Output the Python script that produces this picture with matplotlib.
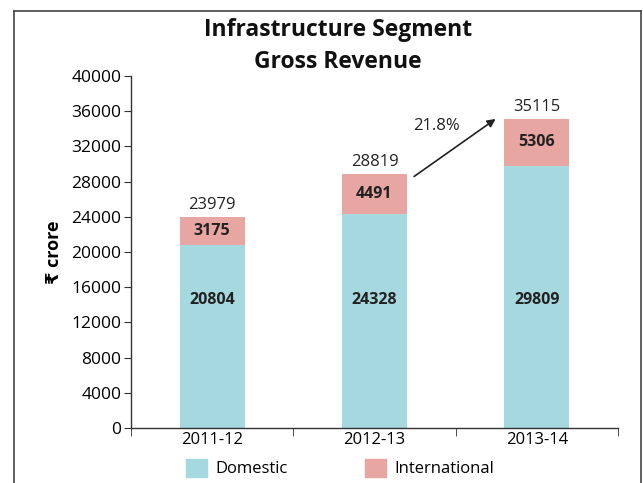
import numpy as np
import matplotlib.pyplot as plt
from matplotlib.patches import Patch

years = ["2011-12", "2012-13", "2013-14"]
domestic = [20804, 24328, 29809]
international = [3175, 4491, 5306]
totals = [23979, 28819, 35115]
growth = "21.8%"

c_dom = "#a6d8e0"
c_int = "#e8a6a2"

plt.rcParams['font.family'] = ['Open Sans', 'DejaVu Sans']

fig = plt.figure(figsize=(6.43, 4.83), dpi=100)
ax = fig.add_axes([131/643, 1-428/483, (618-131)/643, (428-76)/483])

x = np.arange(len(years))
ax.bar(x, domestic, width=0.4, color=c_dom)
ax.bar(x, international, width=0.4, bottom=domestic, color=c_int)

for i in range(len(years)):
    ax.text(x[i], 14500, str(domestic[i]), ha="center", va="center",
            fontsize=11.5, fontweight="bold", color="#222222")
    ax.text(x[i], domestic[i] + international[i]/2, str(international[i]),
            ha="center", va="center", fontsize=11.5, fontweight="bold", color="#222222")
    ax.text(x[i], totals[i] + 500, str(totals[i]), ha="center", va="bottom",
            fontsize=12, color="#222222")

# growth arrow
ax.annotate("", xy=(1.76, 35300), xytext=(1.23, 28400),
            arrowprops=dict(arrowstyle="-|>", color="#222222", lw=1.2, mutation_scale=12))
ax.text(1.38, 34300, growth, ha="center", va="center", fontsize=12, color="#222222")

ax.set_xlim(-0.5, 2.5)
ax.set_ylim(0, 40000)
ax.set_yticks(np.arange(0, 40001, 4000))
ax.set_xticks(x)
ax.set_xticklabels(years)
ax.set_xticks([-0.5, 0.5, 1.5, 2.5], minor=True)
ax.tick_params(axis="x", which="major", length=0, labelsize=12, pad=3)
ax.tick_params(axis="x", which="minor", length=6, direction="out", color="#333333")
ax.tick_params(axis="y", length=5, direction="out", labelsize=12.5, color="#333333", pad=2)
for s in ["top", "right"]:
    ax.spines[s].set_visible(False)
for s in ["left", "bottom"]:
    ax.spines[s].set_color("#333333")
    ax.spines[s].set_linewidth(1)

ax.set_ylabel("₹ crore", fontsize=13, fontweight="bold", labelpad=6)

for txt, yy in [("Infrastructure Segment", 30), ("Gross Revenue", 62)]:
    fig.text(338/643, 1-yy/483, txt, ha="center", va="center",
             fontsize=16.5, fontweight="bold", color="#111111")

handles = [Patch(color=c_dom, label="Domestic"), Patch(color=c_int, label="International")]
fig.legend(handles=handles, loc="center", bbox_to_anchor=(340/643, 1-468/483), ncol=2,
           frameon=False, fontsize=12, handlelength=1.3, handleheight=1.3,
           columnspacing=4.6, handletextpad=0.5)

# page frame
fig.add_artist(plt.Line2D([14/643, 14/643], [0, 1-11/483], color="#444444", lw=1.2))
fig.add_artist(plt.Line2D([14/643, 641/643], [1-11/483, 1-11/483], color="#444444", lw=1.2))
fig.add_artist(plt.Line2D([641/643, 641/643], [0, 1-11/483], color="#444444", lw=1.2))

fig.savefig("out.png", dpi=100)
